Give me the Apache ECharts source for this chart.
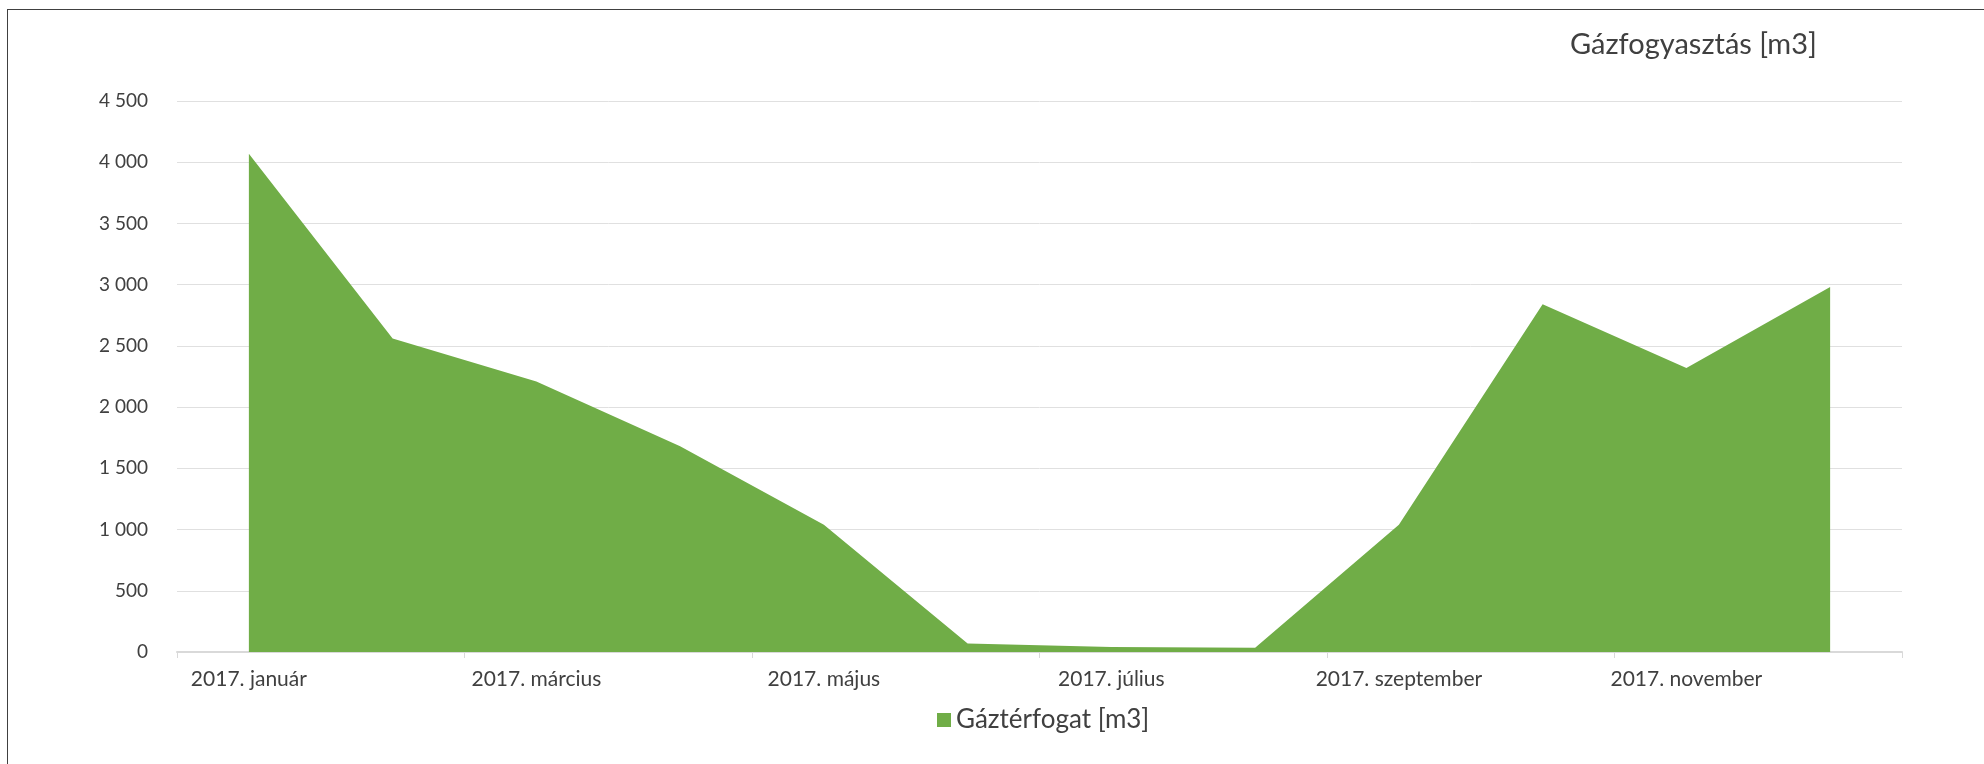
<!DOCTYPE html>
<html lang="hu">
<head>
    <meta charset="UTF-8">
    <title>Gázfogyasztás</title>
    <script src="https://cdn.jsdelivr.net/npm/echarts@6/dist/echarts.min.js"></script>
    <style>
        html, body { margin: 0; padding: 0; background: #fff; }
        #frame { position: absolute; left: 7px; top: 9px; width: 2100px; height: 900px;
                 border-left: 1px solid #404040; border-top: 1px solid #404040; }
        #chart { position: absolute; left: 0; top: 0; width: 1984px; height: 764px; }
    </style>
</head>
<body>
<div id="frame"></div>
<div id="chart"></div>
<script type="application/javascript">
    // havi adatok
    var months = ['2017. január', '2017. február', '2017. március', '2017. április',
        '2017. május', '2017. június', '2017. július', '2017. augusztus',
        '2017. szeptember', '2017. október', '2017. november', '2017. december'];
    var gasVolume = [4070, 2560, 2210, 1680, 1040, 70, 40, 35, 1040, 2840, 2320, 2980];
    var seriesName = 'Gáztérfogat [m3]';
    var chartTitle = 'Gázfogyasztás [m3]';

    var font = 'Lato, Carlito, "Open Sans", sans-serif';

    var chart = echarts.init(document.getElementById('chart'), null, {renderer: 'canvas'});
    var option = {
        animation: false,
        title: {
            text: chartTitle,
            left: 1565,
            top: 25,
            textStyle: {fontFamily: font, fontSize: 29, fontWeight: 'normal', color: '#404040'}
        },
        legend: {
            data: [seriesName],
            left: 932,
            top: 702,
            itemWidth: 14,
            itemHeight: 14,
            itemGap: 6,
            icon: 'rect',
            textStyle: {fontFamily: font, fontSize: 26, color: '#404040'}
        },
        grid: {
            left: 177,
            right: 82,
            top: 101,
            bottom: 112,
            containLabel: false
        },
        xAxis: {
            type: 'category',
            data: months,
            boundaryGap: true,
            axisLine: {lineStyle: {color: '#d9d9d9', width: 2}},
            axisTick: {show: true, interval: 1, length: 6, lineStyle: {color: '#d9d9d9'}},
            axisLabel: {
                interval: 1,
                margin: 17,
                fontFamily: font,
                fontSize: 21,
                color: '#404040'
            }
        },
        yAxis: {
            type: 'value',
            min: 0,
            max: 4500,
            interval: 500,
            axisLine: {show: false},
            axisTick: {show: false},
            splitLine: {lineStyle: {color: '#e0e0e0', width: 1}},
            axisLabel: {
                margin: 29,
                fontFamily: font,
                fontSize: 19,
                color: '#404040',
                formatter: function (v) {
                    return String(v).replace(/\B(?=(\d{3})+(?!\d))/g, ' ');
                }
            }
        },
        series: [{
            name: seriesName,
            type: 'line',
            data: gasVolume,
            symbol: 'none',
            lineStyle: {width: 0},
            areaStyle: {color: '#70ad47', opacity: 1},
            itemStyle: {color: '#70ad47'}
        }]
    };
    chart.setOption(option);
</script>
</body>
</html>
